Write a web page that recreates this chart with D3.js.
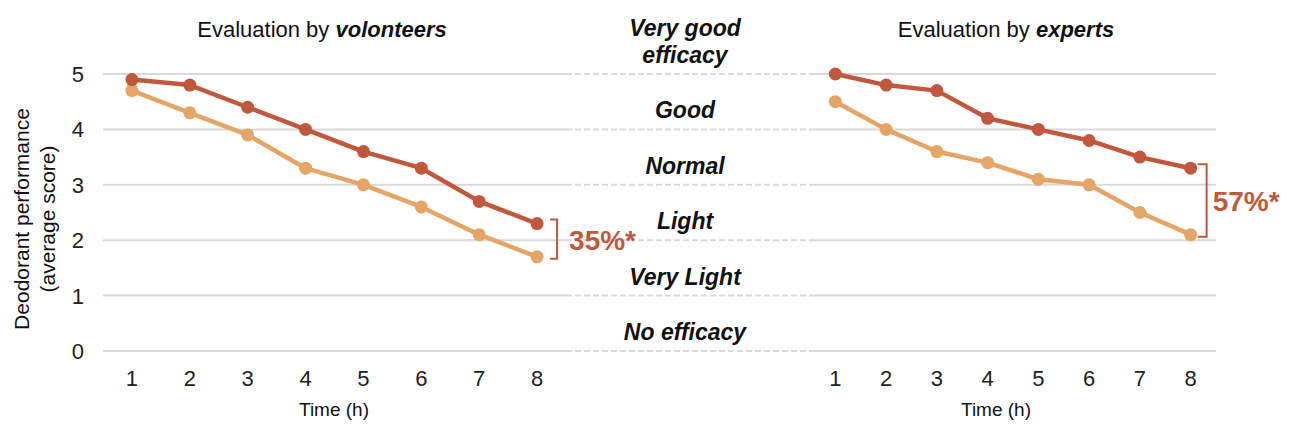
<!DOCTYPE html>
<html>
<head>
<meta charset="utf-8">
<script src="https://cdn.jsdelivr.net/npm/d3@7"></script>
<style>
  body { margin: 0; background: #fff; }
  text { font-family: Arial, "Liberation Sans", sans-serif; }
</style>
</head>
<body>
<script>
// data
var hours = [1, 2, 3, 4, 5, 6, 7, 8];
var volRed = [4.9, 4.8, 4.4, 4.0, 3.6, 3.3, 2.7, 2.3];
var volOrange = [4.7, 4.3, 3.9, 3.3, 3.0, 2.6, 2.1, 1.7];
var expRed = [5.0, 4.8, 4.7, 4.2, 4.0, 3.8, 3.5, 3.3];
var expOrange = [4.5, 4.0, 3.6, 3.4, 3.1, 3.0, 2.5, 2.1];
var yTicks = [0, 1, 2, 3, 4, 5];
var levels = [
  ['No efficacy'], ['Very Light'], ['Light'], ['Normal'], ['Good'], ['Very good', 'efficacy']
];
var gaps = ['35%*', '57%*'];

var red = '#c1583e', orange = '#e4a566', grid = '#d9d9d9';

var svg = d3.select('body').append('svg').attr('width', 1304).attr('height', 433);

var y = d3.scaleLinear().domain([0, 5]).range([351, 74]);

var panels = [
  { title: 'volonteers', red: volRed, orange: volOrange, gap: gaps[0],
    x: d3.scalePoint().domain(hours).range([103, 566]).padding(0.5),
    titleX: 322, timeX: 334, bx: [13, 20], tx: 12 },
  { title: 'experts', red: expRed, orange: expOrange, gap: gaps[1],
    x: d3.scalePoint().domain(hours).range([810, 1216]).padding(0.5),
    titleX: 1006, timeX: 996, bx: [7, 16], tx: 6 }
];

// dashed middle part of the gridlines
svg.selectAll('.dash').data(yTicks).enter().append('line')
  .attr('x1', 566).attr('x2', 810)
  .attr('y1', function(d) { return y(d); }).attr('y2', function(d) { return y(d); })
  .attr('stroke', grid).attr('stroke-width', 2).attr('stroke-dasharray', '6,3');

// level labels in the middle
var lv = svg.selectAll('.level').data(levels).enter().append('text')
  .attr('x', 685)
  .attr('y', function(d, i) { return d.length > 1 ? y(i + 0.2) - 27 : y(i + 0.2); })
  .attr('text-anchor', 'middle')
  .style('font-size', '23px').style('font-weight', 'bold').style('font-style', 'italic')
  .attr('fill', '#111');
lv.selectAll('tspan').data(function(d) { return d; }).enter().append('tspan')
  .attr('x', 685).attr('dy', function(d, i) { return i ? 27 : 0; })
  .text(function(d) { return d; });

var line = d3.line();

panels.forEach(function(p, pi) {
  var x = p.x;
  var r = x.range();
  var g = svg.append('g');

  g.selectAll('.grid').data(yTicks).enter().append('line')
    .attr('x1', r[0]).attr('x2', r[1])
    .attr('y1', function(d) { return y(d); }).attr('y2', function(d) { return y(d); })
    .attr('stroke', grid).attr('stroke-width', 2);

  if (pi === 0) {
    g.selectAll('.ytick').data(yTicks).enter().append('text')
      .attr('x', r[0] - 19).attr('y', function(d) { return y(d) + 8; })
      .attr('text-anchor', 'end').style('font-size', '22px').attr('fill', '#222')
      .text(function(d) { return d; });
    var yl = g.append('text').attr('transform', 'translate(29,219) rotate(-90)')
      .attr('text-anchor', 'middle').style('font-size', '21px').attr('fill', '#111');
    yl.append('tspan').attr('x', 0).attr('dy', 0).text('Deodorant performance');
    yl.append('tspan').attr('x', 0).attr('dy', 26).text('(average score)');
  }

  g.selectAll('.xtick').data(hours).enter().append('text')
    .attr('x', function(d) { return x(d); }).attr('y', 386)
    .attr('text-anchor', 'middle').style('font-size', '22px').attr('fill', '#222')
    .text(function(d) { return d; });

  g.append('text').attr('x', p.timeX).attr('y', 416).attr('text-anchor', 'middle')
    .style('font-size', '19px').attr('fill', '#111').text('Time (h)');

  var t = g.append('text').attr('x', p.titleX).attr('y', 37).attr('text-anchor', 'middle')
    .style('font-size', '22px').attr('fill', '#111');
  t.append('tspan').text('Evaluation by ');
  t.append('tspan').style('font-weight', 'bold').style('font-style', 'italic').text(p.title);

  [[p.orange, orange], [p.red, red]].forEach(function(s) {
    var pts = hours.map(function(h, i) { return [x(h), y(s[0][i])]; });
    g.append('path').attr('d', line(pts)).attr('fill', 'none')
      .attr('stroke', s[1]).attr('stroke-width', 4.5).attr('stroke-linejoin', 'round');
    g.selectAll(null).data(pts).enter().append('circle')
      .attr('cx', function(d) { return d[0]; }).attr('cy', function(d) { return d[1]; })
      .attr('r', 6.5).attr('fill', s[1]);
  });

  // bracket at hour 8
  var last = hours.length - 1;
  var xl = x(hours[last]);
  var top = y(p.red[last]) - 4, bot = y(p.orange[last]) + 2;
  var bx0 = xl + p.bx[0], bx1 = xl + p.bx[1];
  g.append('path')
    .attr('d', 'M' + bx0 + ',' + top + 'H' + bx1 + 'V' + bot + 'H' + bx0)
    .attr('fill', 'none').attr('stroke', red).attr('stroke-width', 2);
  g.append('text').attr('x', bx1 + p.tx).attr('y', (top + bot) / 2 + 11)
    .style('font-size', '28px').style('font-weight', 'bold').attr('fill', red)
    .text(p.gap);
});
</script>
</body>
</html>
